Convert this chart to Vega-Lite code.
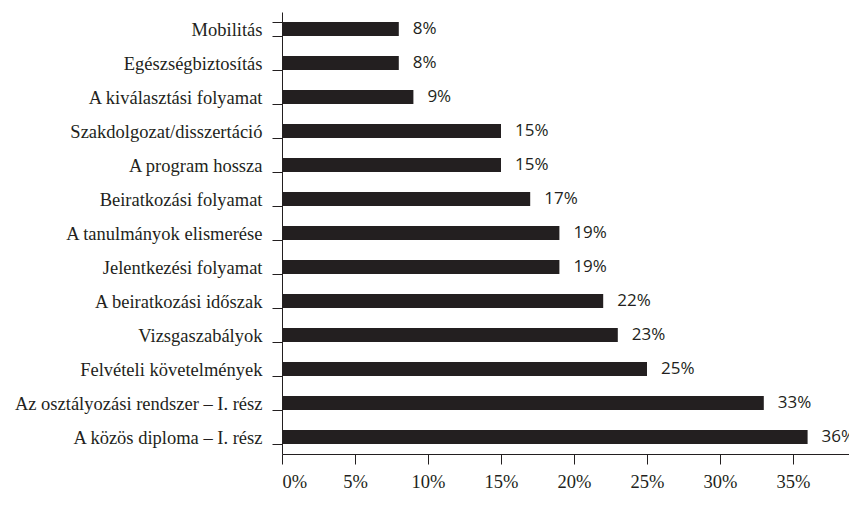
{
  "$schema": "https://vega.github.io/schema/vega-lite/v6.json",
  "autosize": "none",
  "padding": {"left": 282, "top": 12, "right": 0, "bottom": 58},
  "width": 584,
  "height": 442,
  "background": "white",
  "data": {
    "values": [
      {"cat": "Mobilitás", "v": 0.08},
      {"cat": "Egészségbiztosítás", "v": 0.08},
      {"cat": "A kiválasztási folyamat", "v": 0.09},
      {"cat": "Szakdolgozat/disszertáció", "v": 0.15},
      {"cat": "A program hossza", "v": 0.15},
      {"cat": "Beiratkozási folyamat", "v": 0.17},
      {"cat": "A tanulmányok elismerése", "v": 0.19},
      {"cat": "Jelentkezési folyamat", "v": 0.19},
      {"cat": "A beiratkozási időszak", "v": 0.22},
      {"cat": "Vizsgaszabályok", "v": 0.23},
      {"cat": "Felvételi követelmények", "v": 0.25},
      {"cat": "Az osztályozási rendszer – I. rész", "v": 0.33},
      {"cat": "A közös diploma – I. rész", "v": 0.36}
    ]
  },
  "encoding": {
    "y": {
      "field": "cat", "type": "nominal", "sort": null,
      "scale": {"paddingInner": 0.59, "paddingOuter": 0.295},
      "axis": {
        "title": null, "tickBand": "extent", "tickSize": 10, "labelPadding": 10,
        "labelFont": "Liberation Serif", "labelFontSize": 18.5, "labelColor": "#231f20",
        "domainColor": "#231f20", "tickColor": "#231f20", "domainWidth": 1, "tickWidth": 1,
        "labelLimit": 400
      }
    },
    "x": {
      "field": "v", "type": "quantitative",
      "scale": {"domain": [0, 0.4], "nice": false},
      "axis": {
        "title": null, "values": [0, 0.05, 0.1, 0.15, 0.2, 0.25, 0.3, 0.35], "format": ".0%",
        "tickSize": 10, "labelPadding": 8, "grid": false,
        "labelFont": "Liberation Serif", "labelFontSize": 18.5, "labelColor": "#231f20",
        "domainColor": "#231f20", "tickColor": "#231f20"
      }
    }
  },
  "layer": [
    {"mark": {"type": "bar", "color": "#231f20"}},
    {
      "mark": {"type": "text", "align": "left", "baseline": "middle", "dx": 14, "font": "Open Sans", "fontSize": 17, "color": "#231f20"},
      "encoding": {"text": {"field": "v", "type": "quantitative", "format": ".0%"}}
    }
  ],
  "config": {"view": {"stroke": null}}
}
